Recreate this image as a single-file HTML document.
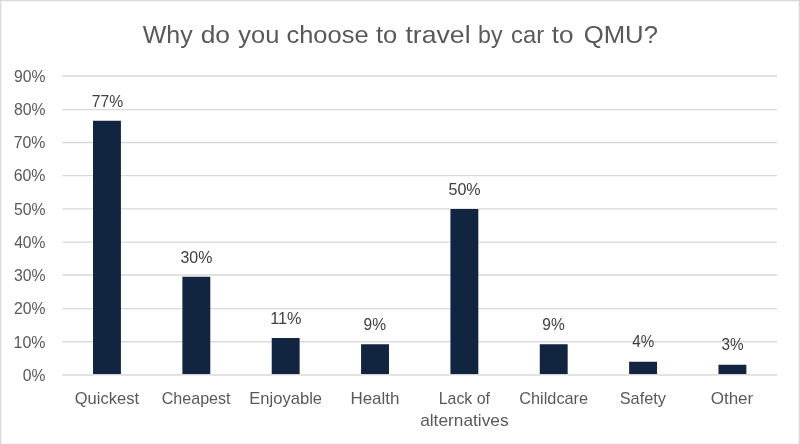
<!DOCTYPE html>
<html lang="en">
<head>
<meta charset="utf-8">
<title>Why do you choose to travel by car to QMU?</title>
<style>
html,body{margin:0;padding:0;background:#fff;}
body{width:800px;height:444px;overflow:hidden;}
svg{display:block;}
text{white-space:pre;}
</style>
</head>
<body>
<svg width="800" height="444" viewBox="0 0 800 444" font-family="'Liberation Sans', sans-serif">
<rect x="0" y="0" width="800" height="444" fill="#ffffff"/>
<g fill="#d9d9d9"><rect x="0" y="0" width="800" height="1.3"/><rect x="0" y="0" width="1.3" height="444"/><rect x="798.6" y="0" width="1.4" height="444"/><rect x="0" y="443.7" width="800" height="0.3"/></g>
<g stroke="#d9d9d9" stroke-width="1.33">
<line x1="62.3" y1="375.00" x2="777.1" y2="375.00"/>
<line x1="62.3" y1="341.78" x2="777.1" y2="341.78"/>
<line x1="62.3" y1="308.56" x2="777.1" y2="308.56"/>
<line x1="62.3" y1="275.00" x2="777.1" y2="275.00"/>
<line x1="62.3" y1="242.12" x2="777.1" y2="242.12"/>
<line x1="62.3" y1="208.90" x2="777.1" y2="208.90"/>
<line x1="62.3" y1="175.68" x2="777.1" y2="175.68"/>
<line x1="62.3" y1="142.46" x2="777.1" y2="142.46"/>
<line x1="62.3" y1="109.55" x2="777.1" y2="109.55"/>
<line x1="62.3" y1="76.00" x2="777.1" y2="76.00"/>
</g>
<g fill="#112540">
<rect x="93.02" y="120.75" width="27.9" height="253.50"/>
<rect x="182.38" y="276.75" width="27.9" height="97.50"/>
<rect x="271.73" y="338.00" width="27.9" height="36.25"/>
<rect x="361.08" y="344.25" width="27.9" height="30.00"/>
<rect x="450.43" y="209.00" width="27.9" height="165.25"/>
<rect x="539.77" y="344.25" width="27.9" height="30.00"/>
<rect x="629.12" y="361.75" width="27.9" height="12.50"/>
<rect x="718.48" y="364.75" width="27.9" height="9.50"/>
</g>
<g fill="#ffffff" fill-opacity="0.6">
<rect x="93.02" y="374.25" width="27.9" height="1.6"/>
<rect x="182.38" y="374.25" width="27.9" height="1.6"/>
<rect x="271.73" y="374.25" width="27.9" height="1.6"/>
<rect x="361.08" y="374.25" width="27.9" height="1.6"/>
<rect x="450.43" y="374.25" width="27.9" height="1.6"/>
<rect x="539.77" y="374.25" width="27.9" height="1.6"/>
<rect x="629.12" y="374.25" width="27.9" height="1.6"/>
<rect x="718.48" y="374.25" width="27.9" height="1.6"/>
</g>
<g class="title">
<text x="142.74" y="42.60" font-size="24.2" fill="#595959" textLength="49.89" lengthAdjust="spacingAndGlyphs">Why</text>
<text x="200.66" y="42.60" font-size="24.2" fill="#595959" textLength="29.35" lengthAdjust="spacingAndGlyphs">do</text>
<text x="238.23" y="42.60" font-size="24.2" fill="#595959" textLength="41.10" lengthAdjust="spacingAndGlyphs">you</text>
<text x="286.45" y="42.60" font-size="24.2" fill="#595959" textLength="82.11" lengthAdjust="spacingAndGlyphs">choose</text>
<text x="375.98" y="42.60" font-size="24.2" fill="#595959" textLength="21.25" lengthAdjust="spacingAndGlyphs">to</text>
<text x="405.47" y="42.60" font-size="24.2" fill="#595959" textLength="65.10" lengthAdjust="spacingAndGlyphs">travel</text>
<text x="478.06" y="42.60" font-size="24.2" fill="#595959" textLength="24.48" lengthAdjust="spacingAndGlyphs">by</text>
<text x="511.02" y="42.60" font-size="24.2" fill="#595959" textLength="33.09" lengthAdjust="spacingAndGlyphs">car</text>
<text x="551.73" y="42.60" font-size="24.2" fill="#595959" textLength="21.78" lengthAdjust="spacingAndGlyphs">to</text>
<text x="583.67" y="42.60" font-size="24.2" fill="#595959" textLength="74.28" lengthAdjust="spacingAndGlyphs">QMU?</text>
</g>
<g class="yaxis">
<text x="22.87" y="380.80" font-size="16.2" fill="#595959" textLength="22.67" lengthAdjust="spacingAndGlyphs">0%</text>
<text x="13.62" y="347.58" font-size="16.2" fill="#595959" textLength="31.93" lengthAdjust="spacingAndGlyphs">10%</text>
<text x="13.92" y="314.36" font-size="16.2" fill="#595959" textLength="31.57" lengthAdjust="spacingAndGlyphs">20%</text>
<text x="13.92" y="280.80" font-size="16.2" fill="#595959" textLength="31.58" lengthAdjust="spacingAndGlyphs">30%</text>
<text x="14.16" y="247.92" font-size="16.2" fill="#595959" textLength="31.33" lengthAdjust="spacingAndGlyphs">40%</text>
<text x="13.92" y="214.70" font-size="16.2" fill="#595959" textLength="31.58" lengthAdjust="spacingAndGlyphs">50%</text>
<text x="13.67" y="181.48" font-size="16.2" fill="#595959" textLength="31.83" lengthAdjust="spacingAndGlyphs">60%</text>
<text x="13.67" y="148.26" font-size="16.2" fill="#595959" textLength="31.83" lengthAdjust="spacingAndGlyphs">70%</text>
<text x="13.92" y="115.35" font-size="16.2" fill="#595959" textLength="31.58" lengthAdjust="spacingAndGlyphs">80%</text>
<text x="13.92" y="81.80" font-size="16.2" fill="#595959" textLength="31.58" lengthAdjust="spacingAndGlyphs">90%</text>
</g>
<g class="xaxis">
<text x="74.72" y="403.75" font-size="15.9" fill="#595959" textLength="64.36" lengthAdjust="spacingAndGlyphs">Quickest</text>
<text x="161.74" y="403.75" font-size="15.9" fill="#595959" textLength="68.79" lengthAdjust="spacingAndGlyphs">Cheapest</text>
<text x="249.19" y="403.75" font-size="15.9" fill="#595959" textLength="72.89" lengthAdjust="spacingAndGlyphs">Enjoyable</text>
<text x="350.41" y="403.75" font-size="15.9" fill="#595959" textLength="49.09" lengthAdjust="spacingAndGlyphs">Health</text>
<text x="438.75" y="403.75" font-size="15.9" fill="#595959" textLength="51.23" lengthAdjust="spacingAndGlyphs">Lack of</text>
<text x="420.18" y="426.25" font-size="15.9" fill="#595959" textLength="88.38" lengthAdjust="spacingAndGlyphs">alternatives</text>
<text x="519.23" y="403.75" font-size="15.9" fill="#595959" textLength="68.91" lengthAdjust="spacingAndGlyphs">Childcare</text>
<text x="619.73" y="403.75" font-size="15.9" fill="#595959" textLength="46.34" lengthAdjust="spacingAndGlyphs">Safety</text>
<text x="710.70" y="403.75" font-size="15.9" fill="#595959" textLength="42.57" lengthAdjust="spacingAndGlyphs">Other</text>
</g>
<g class="dlabel">
<text x="91.75" y="106.50" font-size="15.7" fill="#404040" textLength="31.41" lengthAdjust="spacingAndGlyphs">77%</text>
<text x="180.49" y="262.50" font-size="15.7" fill="#404040" textLength="31.93" lengthAdjust="spacingAndGlyphs">30%</text>
<text x="270.21" y="323.50" font-size="15.7" fill="#404040" textLength="31.30" lengthAdjust="spacingAndGlyphs">11%</text>
<text x="363.51" y="330.00" font-size="15.7" fill="#404040" textLength="22.43" lengthAdjust="spacingAndGlyphs">9%</text>
<text x="448.48" y="194.50" font-size="15.7" fill="#404040" textLength="32.19" lengthAdjust="spacingAndGlyphs">50%</text>
<text x="542.26" y="329.75" font-size="15.7" fill="#404040" textLength="22.43" lengthAdjust="spacingAndGlyphs">9%</text>
<text x="632.26" y="347.25" font-size="15.7" fill="#404040" textLength="21.92" lengthAdjust="spacingAndGlyphs">4%</text>
<text x="721.52" y="350.25" font-size="15.7" fill="#404040" textLength="22.16" lengthAdjust="spacingAndGlyphs">3%</text>
</g>
</svg>
</body>
</html>
